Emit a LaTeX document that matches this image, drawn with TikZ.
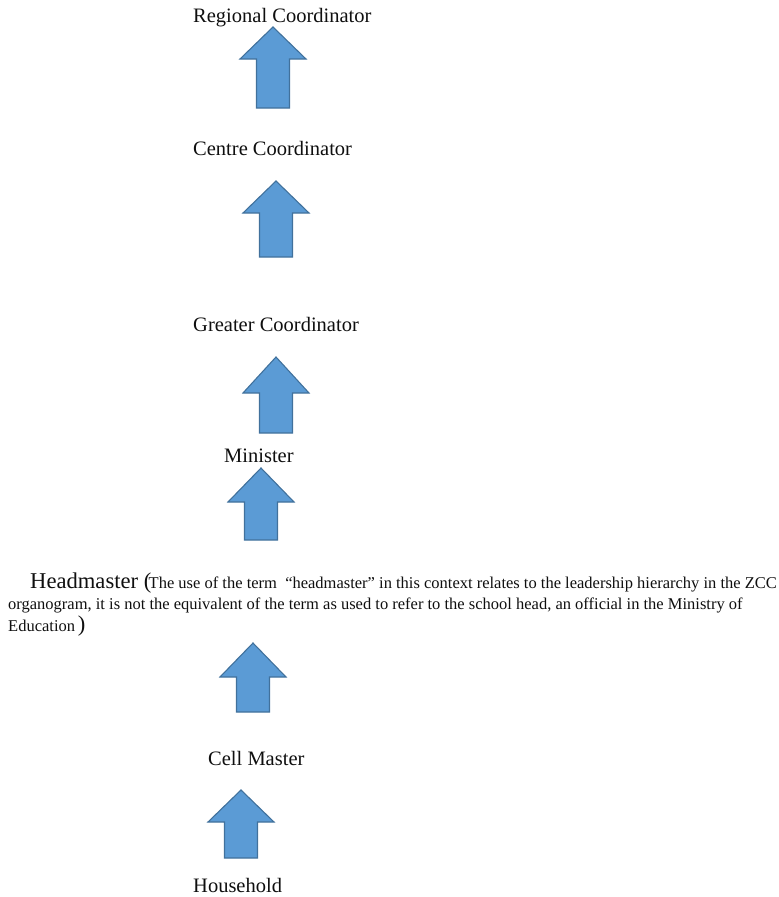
\documentclass[tikz,border=0pt]{standalone}
\usepackage{fontspec}
\setmainfont{Liberation Serif}
\usepackage{tikz}
\definecolor{ArrowFill}{RGB}{91,155,213}
\definecolor{ArrowEdge}{RGB}{65,113,156}
\definecolor{LabelDark}{RGB}{15,15,15}

\begin{document}
\begin{tikzpicture}[x=1pt,y=-1pt,
    lvl/.style={anchor=base west,inner sep=0pt,color=LabelDark,font=\fontsize{20.5}{24}\selectfont},
    note/.style={anchor=base west,inner sep=0pt,color=LabelDark,font=\fontsize{16.5}{19}\selectfont}]
  % Canvas in pixel units, y running down
  \useasboundingbox (0,0) rectangle (779,897);

  \def\hw{33}   % half width of arrow head
  \def\sw{16.5} % half width of arrow shaft

  % Block arrows: centre x / tip y / head base y / bottom y
  \foreach \cx/\tip/\hb/\bot in {
    273/27/59/108,
    276/181/213/257,
    276/357/393/433,
    261/468/502/540,
    253/643/677/712,
    241/790/822/858
  }{
    \draw[ArrowEdge,fill=ArrowFill,line width=1.1pt,line join=miter]
      (\cx,\tip) -- (\cx+\hw,\hb) -- (\cx+\sw,\hb) -- (\cx+\sw,\bot)
      -- (\cx-\sw,\bot) -- (\cx-\sw,\hb) -- (\cx-\hw,\hb) -- cycle;
  }

  % Levels of the hierarchy
  \foreach \nm/\x/\y/\lbl in {
    regional/193/22/Regional Coordinator,
    centre/193/155/Centre Coordinator,
    greater/193/331/Greater Coordinator,
    minister/224/462/Minister,
    cellmaster/208/765/Cell Master,
    household/193/892/Household
  }{
    \node[lvl] (\nm) at (\x,\y) {\lbl};
  }

  % Headmaster with its note
  \node[lvl,font=\fontsize{22.6}{26}\selectfont] (headmaster) at (30,588) {Headmaster (};
  \node[note,xshift=-3pt] (noteA) at (headmaster.base east) {The use of the term \ “headmaster” in this context relates to the leadership hierarchy in the ZCC};
  \node[note] (noteB) at (8,609) {organogram, it is not the equivalent of the term as used to refer to the school head, an official in the Ministry of};
  \node[note] (noteC) at (8,631) {Education\,{\fontsize{22.6}{26}\selectfont)}};
\end{tikzpicture}
\end{document}
